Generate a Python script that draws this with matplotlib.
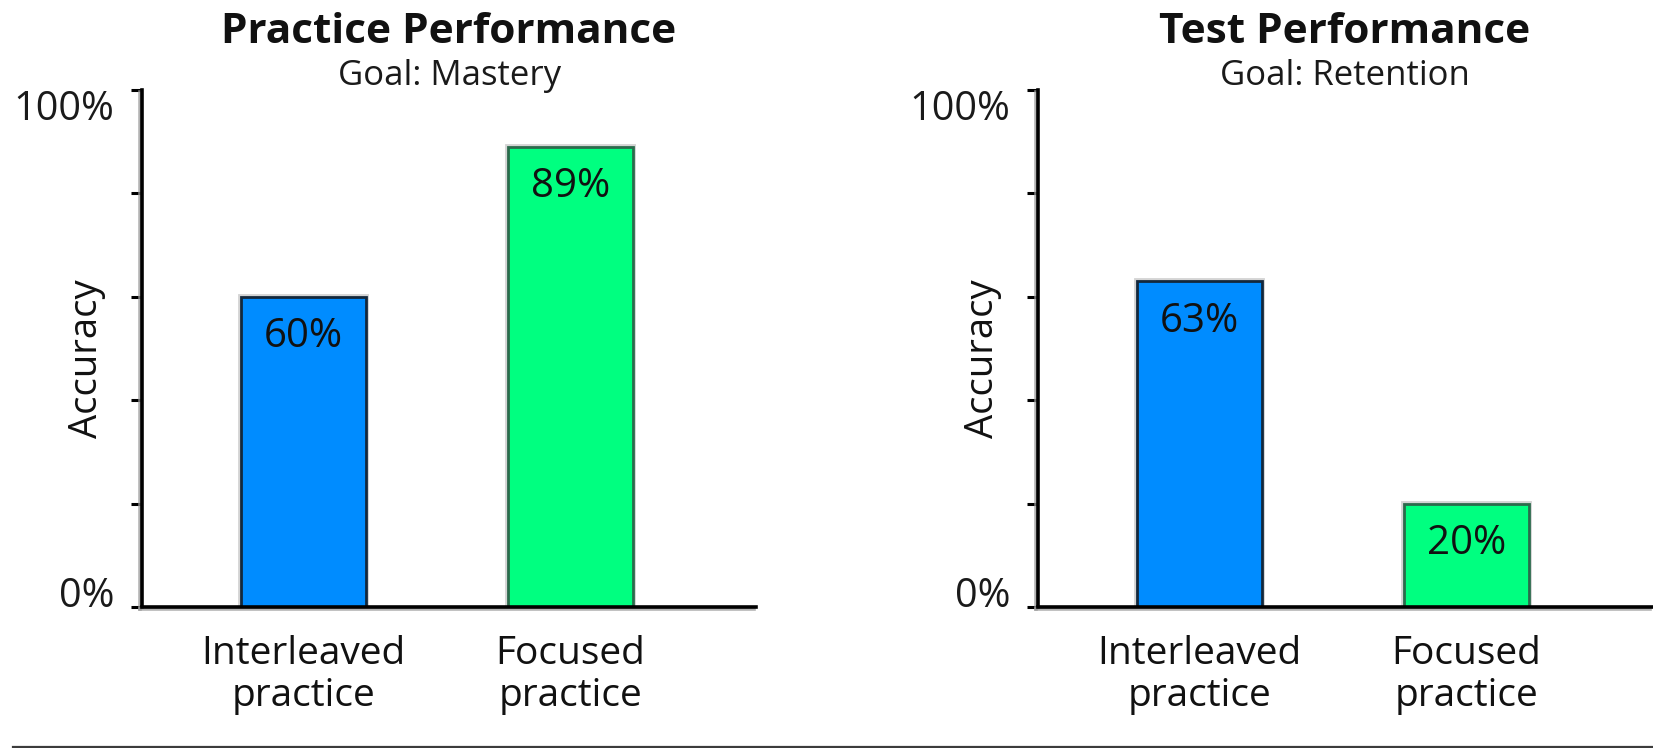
import matplotlib
matplotlib.use('Agg')
import matplotlib.pyplot as plt
import matplotlib.patheffects as pe
from matplotlib.lines import Line2D

# --- data -------------------------------------------------------------
categories = ['Interleaved\npractice', 'Focused\npractice']
practice_accuracy = [60, 89]
test_accuracy = [63, 20]
panel_titles = ['Practice Performance', 'Test Performance']
panel_goals = ['Goal: Mastery', 'Goal: Retention']
ytick_values = [0, 20, 40, 60, 80, 100]
ytick_labels = ['0%', '', '', '', '', '100%']
y_label = 'Accuracy'

# --- style ------------------------------------------------------------
bar_colors = ['#008cff', '#00ff80']
edge_colors = ['#13283c', '#2b6a4c']
text_color = '#111111'
plt.rcParams['font.family'] = ['Open Sans', 'DejaVu Sans']

W, H = 1653, 748
fig = plt.figure(figsize=(W / 100, H / 100), dpi=100)
fig.patch.set_facecolor('white')

# axes boxes in pixels: left, top, right, bottom
boxes = [(142, 90, 756, 607), (1038, 90, 1652, 607)]
panels = [practice_accuracy, test_accuracy]

spine_fx = [pe.SimpleLineShadow(offset=(-1.6, -1.6), shadow_color='#9a9a9a', alpha=0.75),
            pe.Normal()]
bar_fx = [pe.withStroke(linewidth=4.2, foreground='#d4d4d4')]

for (l, t, r, b), values, title, goal in zip(boxes, panels, panel_titles, panel_goals):
    ax = fig.add_axes([l / W, 1 - b / H, (r - l) / W, (b - t) / H])
    x = range(len(categories))
    bars = ax.bar(x, values, width=0.47, color=bar_colors,
                  edgecolor=edge_colors, linewidth=2.0, zorder=2)
    for bar in bars:
        bar.set_path_effects(bar_fx)

    ax.set_xlim(-0.605, 1.695)
    ax.set_ylim(0, 100)

    for side in ('top', 'right'):
        ax.spines[side].set_visible(False)
    for side in ('left', 'bottom'):
        ax.spines[side].set_linewidth(2.6)
        ax.spines[side].set_color('black')
        ax.spines[side].set_path_effects(spine_fx)
        ax.spines[side].set_zorder(3)

    ax.set_yticks(ytick_values, ytick_labels)
    ax.tick_params(axis='y', length=8, width=2.2, color='black', pad=12,
                   labelsize=28.5, labelcolor='#1a1a1a')
    ylabs = ax.get_yticklabels()
    ylabs[0].set_va('baseline')
    ylabs[-1].set_va('top')

    ax.set_xticks(list(x), categories)
    ax.tick_params(axis='x', length=0, pad=20, labelsize=28, labelcolor=text_color)
    for lab in ax.get_xticklabels():
        lab.set_linespacing(1.15)

    ax.set_ylabel(y_label, fontsize=27.5, color=text_color)
    ax.yaxis.set_label_coords(-0.059, 0.48)

    for i, v in enumerate(values):
        ax.annotate(f'{v}%', xy=(i, v), xytext=(0, -29), textcoords='offset points',
                    ha='center', va='center', fontsize=29, color=text_color, zorder=4)

    cx = (l + r) / 2 / W
    fig.text(cx, 1 - 43 / H, title, ha='center', va='baseline', fontsize=30.5,
             fontweight='bold', color=text_color)
    fig.text(cx, 1 - 85 / H, goal, ha='center', va='baseline', fontsize=25,
             color='#1a1a1a')

# thin rule along the bottom of the figure
fig.add_artist(Line2D([13 / W, 1.0], [1.5 / H, 1.5 / H], color='#3c3c3c', lw=1.6))

fig.savefig('out.png', dpi=100, facecolor='white')
